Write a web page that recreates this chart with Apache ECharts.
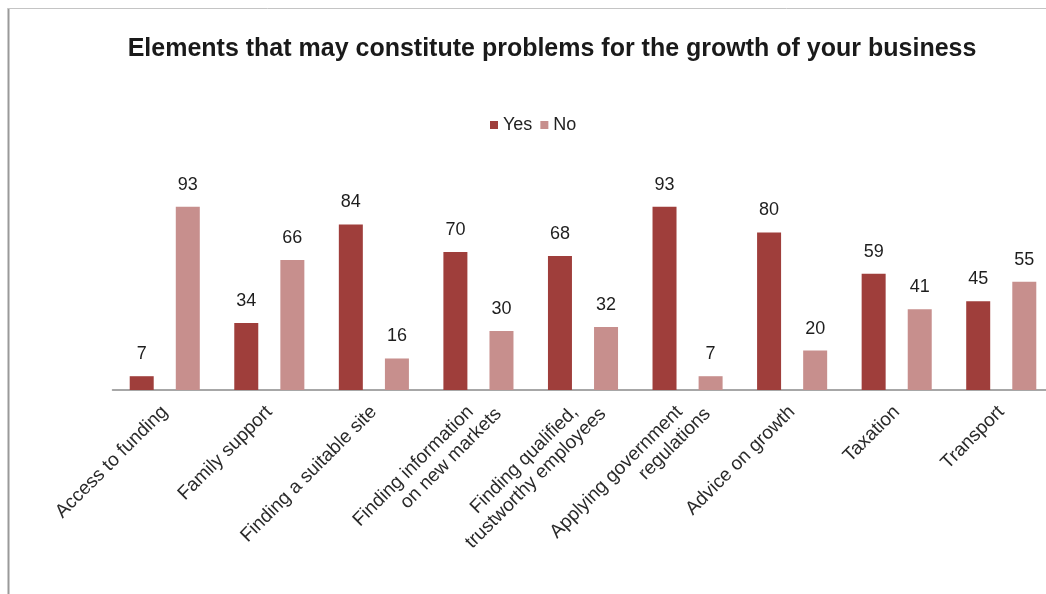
<!DOCTYPE html>
<html>
<head>
<meta charset="utf-8">
<script src="https://cdn.jsdelivr.net/npm/echarts@6/dist/echarts.min.js"></script>
<style>
  html, body { margin: 0; padding: 0; background: #ffffff; }
  #chart { width: 1046px; height: 594px; }
</style>
</head>
<body>
<div id="chart"></div>
<script>
// Survey answers per growth obstacle (percent)
const categories = [
  'Access to funding',
  'Family support',
  'Finding a suitable site',
  'Finding information\non new markets',
  'Finding qualified,\ntrustworthy employees',
  'Applying government\nregulations',
  'Advice on growth',
  'Taxation',
  'Transport'
];
const yesValues = [7, 34, 84, 70, 68, 93, 80, 59, 45];
const noValues = [93, 66, 16, 30, 32, 7, 20, 41, 55];
const seriesNames = ['Yes', 'No'];

const FONT = '"Liberation Sans", Arial, Helvetica, sans-serif';

const chart = echarts.init(document.getElementById('chart'), null, { renderer: 'canvas' });

const valueLabel = {
  show: true,
  position: 'top',
  distance: 13,
  color: '#1e1e1e',
  fontFamily: FONT,
  fontSize: 18
};

// Shared vertical extent of every grid
const TOP = 193, BOTTOM = 204;
// Bar grid: categories sit on the ticks
const BAR_LEFT = 164.75, BAR_RIGHT = 44.75;

// Category label layers: single-line names, first lines and second lines of
// two-line names (the second line is staggered along the slant).
function labelAxis(gridIndex, pick, margin) {
  return {
    type: 'category',
    gridIndex: gridIndex,
    data: categories,
    boundaryGap: false,
    axisLine: { show: false },
    axisTick: { show: false },
    splitLine: { show: false },
    axisLabel: {
      interval: 0,
      rotate: 45,
      margin: margin,
      fontFamily: FONT,
      fontSize: 19,
      color: '#2a2a2a',
      formatter: pick
    }
  };
}
const pickSingle = function (v) { return v.indexOf('\n') < 0 ? v : ''; };
const pickFirst = function (v) { return v.indexOf('\n') < 0 ? '' : v.split('\n')[0]; };
const pickSecond = function (v) { return v.indexOf('\n') < 0 ? '' : v.split('\n')[1]; };

const hiddenY = function (gi) {
  return { type: 'value', gridIndex: gi, min: 0, max: 100, show: false, splitLine: { show: false } };
};

chart.setOption({
  backgroundColor: '#ffffff',
  animation: false,
  title: {
    text: 'Elements that may constitute problems for the growth of your business',
    left: 547,
    textAlign: 'center',
    top: 32,
    textStyle: { fontFamily: FONT, fontWeight: 'bold', fontSize: 25, color: '#1a1a1a' }
  },
  legend: {
    data: seriesNames,
    left: 485,
    top: 111,
    icon: 'rect',
    itemWidth: 8,
    itemHeight: 8,
    itemGap: 8,
    textStyle: { fontFamily: FONT, fontSize: 18, color: '#222' }
  },
  grid: [
    { left: BAR_LEFT, right: BAR_RIGHT, top: TOP, bottom: BOTTOM },
    { left: 112.5, right: 0, top: TOP, bottom: BOTTOM },
    { left: BAR_LEFT - 8, right: BAR_RIGHT + 8, top: TOP, bottom: BOTTOM },
    { left: BAR_LEFT + 20, right: BAR_RIGHT - 20, top: TOP, bottom: BOTTOM }
  ],
  xAxis: [
    labelAxis(0, pickSingle, 19),
    {
      type: 'value',
      gridIndex: 1,
      min: 0,
      max: 1,
      axisLine: { show: true, lineStyle: { color: '#8a8a8a', width: 1.5 } },
      axisTick: { show: false },
      axisLabel: { show: false },
      splitLine: { show: false }
    },
    labelAxis(2, pickFirst, 19),
    labelAxis(3, pickSecond, 21)
  ],
  yAxis: [hiddenY(0), hiddenY(1), hiddenY(2), hiddenY(3)],
  series: [
    {
      name: seriesNames[0],
      type: 'bar',
      xAxisIndex: 0,
      yAxisIndex: 0,
      data: yesValues,
      barWidth: 24,
      barGap: '92%',
      itemStyle: { color: '#9f3e3b' },
      label: valueLabel
    },
    {
      name: seriesNames[1],
      type: 'bar',
      xAxisIndex: 0,
      yAxisIndex: 0,
      data: noValues,
      barWidth: 24,
      itemStyle: { color: '#c78f8d' },
      label: valueLabel
    }
  ],
  graphic: [
    { type: 'line', shape: { x1: 8.5, y1: 8, x2: 8.5, y2: 594 }, style: { stroke: '#9a9a9a', lineWidth: 2 } },
    { type: 'line', shape: { x1: 8, y1: 8.5, x2: 1046, y2: 8.5 }, style: { stroke: '#c4c4c4', lineWidth: 1 } }
  ]
});
</script>
</body>
</html>
